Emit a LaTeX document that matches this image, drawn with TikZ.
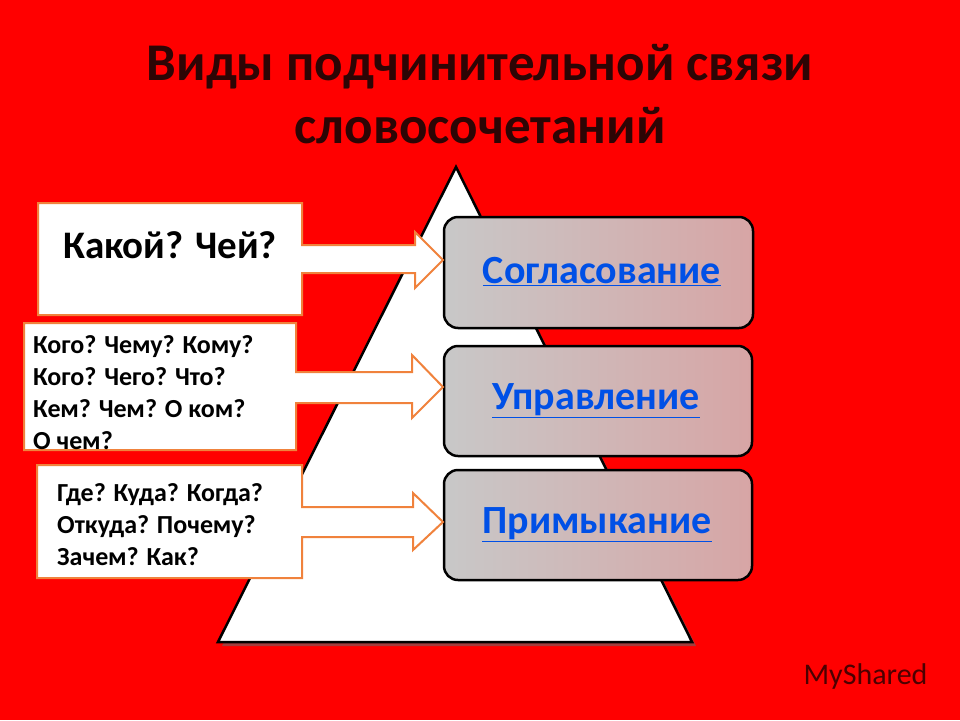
\documentclass[tikz,border=0pt]{standalone}
\usepackage{fontspec}
\setmainfont{Carlito}
\definecolor{bgred}{RGB}{255,0,0}
\definecolor{orng}{RGB}{240,130,60}
\definecolor{ttl}{RGB}{45,5,5}
\definecolor{lnk}{RGB}{0,80,230}
\definecolor{boxl}{RGB}{200,200,200}
\definecolor{boxr}{RGB}{215,165,165}
\begin{document}
\begin{tikzpicture}[x=1pt,y=-1pt,
  callout/.style={draw=orng,line width=2pt,fill=white,line join=miter},
  kind/.style={draw=black,line width=2.5pt,rounded corners=14pt,left color=boxl,right color=boxr},
  kindtxt/.style={font=\bfseries\fontsize{40}{44}\selectfont,text=lnk},
  qtxt/.style={font=\bfseries\fontsize{26}{32}\selectfont,align=left,anchor=north west,inner sep=0pt}]
\fill[bgred] (0,0) rectangle (960,720);
\useasboundingbox (0,0) rectangle (960,720);
\node[font=\bfseries\fontsize{53}{63}\selectfont,text=ttl,align=center] (title) at (480,94) {Виды подчинительной связи\\словосочетаний};
% triangle
\fill[black!60,opacity=0.6] (459,171) -- (696,646) -- (222,646) -- cycle;
\draw[line width=2.5pt,fill=white,line join=miter] (456,167) -- (692,642) -- (218,642) -- cycle;
% kind boxes
\node[kind,minimum width=309pt,minimum height=111pt] (k1) at (598.5,272.5) {};
\node[kind,minimum width=308pt,minimum height=110pt] (k2) at (598,401) {};
\node[kind,minimum width=308pt,minimum height=110pt] (k3) at (598,525) {};
\node[kindtxt] (t1) at (602,272) {\underline{Согласование}};
\node[kindtxt] (t2) at (596,401) {\underline{Управление}};
\node[kindtxt] (t3) at (597,525) {\underline{Примыкание}};
% callouts
\draw[callout] (38,203) -- (302,203) -- (302,245) -- (415,245) -- (415,232) -- (443,260) -- (415,288) -- (415,273) -- (302,273) -- (302,315) -- (38,315) -- cycle;
\draw[callout] (24,323) -- (296,323) -- (296,372) -- (412,372) -- (412,355) -- (443,387) -- (412,418) -- (412,403) -- (296,403) -- (296,450) -- (24,450) -- cycle;
\draw[callout] (37,465) -- (302,465) -- (302,507) -- (413,507) -- (413,493) -- (443,522) -- (413,550) -- (413,537) -- (302,537) -- (302,578) -- (37,578) -- cycle;
\coordinate (c1) at (443,260);
\coordinate (c2) at (443,387);
\coordinate (c3) at (443,522);
\node[font=\bfseries\fontsize{39}{44}\selectfont,anchor=west,inner sep=0pt] (q1) at (63,245) {Какой? Чей?};
\node[qtxt] (q2) at (33,335) {Кого? Чему? Кому?\\Кого? Чего? Что?\\Кем? Чем? О ком?\\О чем?};
\node[qtxt] (q3) at (57,483) {Где? Куда? Когда?\\Откуда? Почему?\\Зачем? Как?};
\node[font=\fontsize{30}{34}\selectfont,text=black!70!red,anchor=west] (wm) at (800,676) {MyShared};
\end{tikzpicture}
\end{document}
